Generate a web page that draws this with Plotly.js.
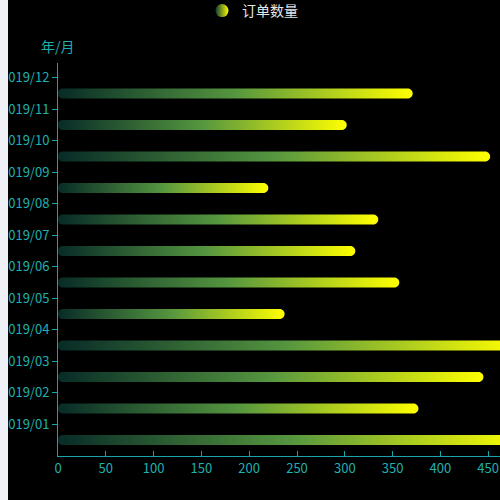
<!DOCTYPE html>
<html><head><meta charset="utf-8">
<script src="https://cdn.plot.ly/plotly-3.0.1.min.js"></script>
<style>
html,body{margin:0;padding:0;background:#eff1f7;width:500px;height:500px;overflow:hidden}
#wrap{position:absolute;left:8px;top:0;width:492px;height:500px;background:#000;overflow:hidden}
#chart{position:absolute;left:-20px;top:0;width:568px;height:500px}
</style></head>
<body><div id="wrap"><div id="chart"></div></div>
<script>
// ---- data ----
const months = ['2019/01','2019/02','2019/03','2019/04','2019/05','2019/06',
                '2019/07','2019/08','2019/09','2019/10','2019/11','2019/12'];
const orders = [490, 377, 445, 480, 237, 357, 311, 335, 220, 452, 302, 371];
const seriesName = '订单数量';
const axisName = '年/月';
const xTicks = [0,50,100,150,200,250,300,350,400,450,500];

// ---- styling / geometry ----
const FONT = '"Noto Sans CJK SC", "Noto Sans", sans-serif';
const AXIS = '#1aa3ad', LABEL = '#1fb0b0';
const W = 568, H = 500, M = {l:70, r:20, t:63, b:44, autoexpand: false};
const plotW = W - M.l - M.r, plotH = H - M.t - M.b;
const xRange = [0, 500];
const yRange = [-0.508, -0.508 + plotH / 31.5];
const xPerPx = (xRange[1]-xRange[0]) / plotW;
const yPerPx = (yRange[1]-yRange[0]) / plotH;
const scale = [[0,'#072b27'],[0.5,'#55963f'],[1,'#ffff00']];

const halfH = 5 * yPerPx, rR = 5 * xPerPx, rL = 4 * xPerPx;

const traces = orders.map((v, i) => {
  const xs = [], ys = [];
  for (let a = -90; a <= 90; a += 10) {
    const t = a * Math.PI / 180;
    xs.push(v - rR + rR * Math.cos(t)); ys.push(i + halfH * Math.sin(t));
  }
  for (let a = 90; a <= 270; a += 15) {
    const t = a * Math.PI / 180;
    xs.push(rL + rL * Math.cos(t)); ys.push(i + halfH * Math.sin(t));
  }
  return {
    type: 'scatter', mode: 'none', x: xs, y: ys, fill: 'toself',
    fillgradient: {type: 'horizontal', colorscale: scale},
    showlegend: false, hoverinfo: 'skip', name: months[i]
  };
});

traces.push({
  type: 'scatter', mode: 'markers', x: [null], y: [null], name: seriesName,
  marker: {size: 13, color: '#0b3a30', gradient: {type: 'horizontal', color: '#ffff00'}},
  showlegend: true
});

const layout = {
  width: W, height: H, margin: M,
  paper_bgcolor: '#000', plot_bgcolor: '#000',
  font: {family: FONT, color: LABEL},
  showlegend: true,
  legend: {orientation: 'h', x: (202 - 58) / plotW, xanchor: 'left',
           y: 1 + 68 / plotH, yanchor: 'top',
           font: {size: 14, color: '#e6e6e6', family: FONT}, bgcolor: 'rgba(0,0,0,0)'},
  xaxis: {range: xRange, tickvals: xTicks, showgrid: false, zeroline: false,
          showline: true, linecolor: AXIS, linewidth: 1,
          ticks: 'inside', ticklen: 5, tickcolor: AXIS,
          tickfont: {size: 13, color: LABEL, family: FONT}, fixedrange: true},
  yaxis: {range: yRange, tickvals: months.map((m, i) => i + 0.5), ticktext: months,
          showgrid: false, zeroline: false, showline: true, linecolor: AXIS, linewidth: 1,
          ticks: 'outside', ticklen: 5, tickcolor: AXIS,
          tickfont: {size: 13, color: LABEL, family: FONT}, fixedrange: true},
  annotations: [{text: axisName, xref: 'paper', yref: 'paper', x: 0, y: 1, yshift: 17,
                 xanchor: 'center', yanchor: 'middle', showarrow: false,
                 font: {size: 14, color: LABEL, family: FONT}}]
};

Plotly.newPlot('chart', traces, layout, {displayModeBar: false, staticPlot: true});
</script>
</body></html>
